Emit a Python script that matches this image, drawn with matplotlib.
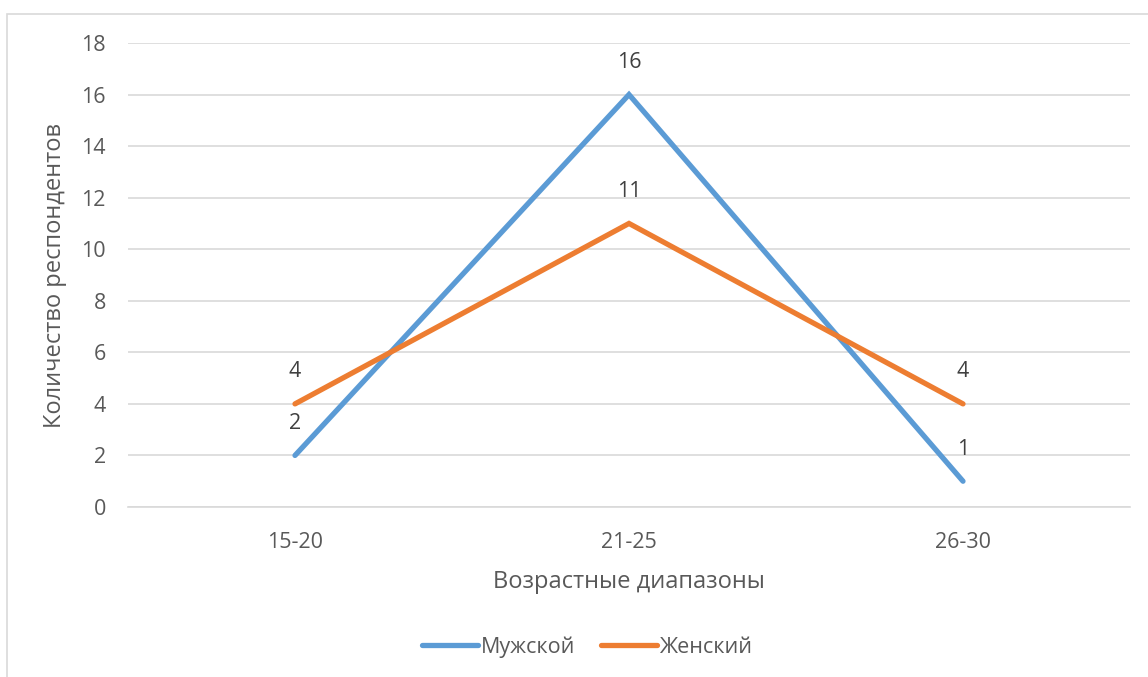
import matplotlib
matplotlib.use("Agg")
from matplotlib import pyplot as plt
from matplotlib.patches import Rectangle

plt.rcParams['font.family'] = ['Open Sans', 'DejaVu Sans']

# данные
categories = ["15-20", "21-25", "26-30"]
male = [2, 16, 1]
female = [4, 11, 4]
series_names = ["Мужской", "Женский"]

text_color = "#595959"
grid_color = "#D9D9D9"

fig = plt.figure(figsize=(11.48, 6.77), dpi=100)
ax = fig.add_axes([128 / 1148, 1 - 507 / 677, (1130 - 128) / 1148, (507 - 43) / 677])

# рамка области диаграммы
fig.patches.append(Rectangle((7 / 1148, -0.1), 1.2, 1 - 14 / 677 + 0.1,
                             transform=fig.transFigure, fill=False,
                             edgecolor=grid_color, linewidth=1.2))

x = list(range(len(categories)))
ax.plot(x, male, color="#5B9BD5", linewidth=3.8, solid_capstyle="round",
        solid_joinstyle="miter", label=series_names[0], zorder=3)
ax.plot(x, female, color="#ED7D31", linewidth=3.8, solid_capstyle="round",
        solid_joinstyle="miter", label=series_names[1], zorder=3)

for xi, v in zip(x, male):
    ax.annotate(str(v), (xi, v), xytext=(0, 23), textcoords="offset points",
                ha="center", va="center", fontsize=15.5, color="#404040")
for xi, v in zip(x, female):
    ax.annotate(str(v), (xi, v), xytext=(0, 23), textcoords="offset points",
                ha="center", va="center", fontsize=15.5, color="#404040")

ax.set_xlim(-0.5, 2.5)
ax.set_ylim(0, 18)
ax.set_yticks(range(0, 19, 2))
ax.set_xticks(x)
ax.set_xticklabels(categories)
ax.grid(axis="y", color=grid_color, linewidth=1.2)
ax.set_axisbelow(True)
for s in ["top", "right", "left"]:
    ax.spines[s].set_visible(False)
ax.spines["bottom"].set_color(grid_color)
ax.spines["bottom"].set_linewidth(1.2)
ax.tick_params(length=0, labelsize=15.5, labelcolor=text_color)
ax.tick_params(axis="y", pad=16)
ax.tick_params(axis="x", pad=18)

ax.set_xlabel("Возрастные диапазоны", fontsize=17, color=text_color, labelpad=12)
ax.set_ylabel("Количество респондентов", fontsize=17, color=text_color, labelpad=10)

ax.legend(loc="center", bbox_to_anchor=(587 / 1148, 1 - 647 / 677),
          bbox_transform=fig.transFigure, ncol=2, frameon=False, fontsize=15.5,
          labelcolor=text_color, handlelength=2.6, handletextpad=0.1,
          columnspacing=1.2)

fig.savefig("out.png", dpi=100)
